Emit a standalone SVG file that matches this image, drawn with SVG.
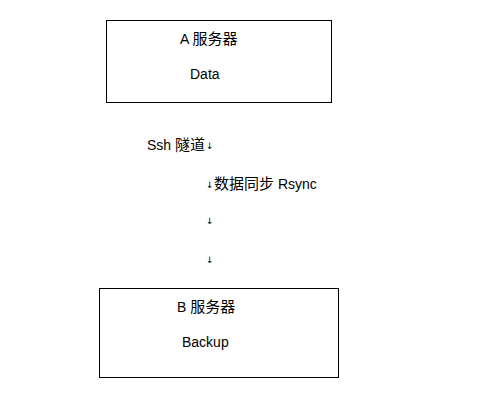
<svg xmlns="http://www.w3.org/2000/svg" width="491" height="418" viewBox="0 0 491 418">
<style>
.box{fill:#fff;stroke:#000;stroke-width:1}
.t{font-family:"Liberation Sans","Noto Sans CJK SC",sans-serif;font-size:14px;fill:#000}
.c{font-family:"Noto Sans CJK SC",sans-serif;font-size:15px}
.m{font-family:"DejaVu Sans",sans-serif;font-size:9px;fill:#000}
</style>
<rect width="491" height="418" fill="#fff"/>
<g id="nodeA">
<rect class="box" x="106.5" y="20.5" width="225" height="82"/>
<text class="t" x="180" y="44">A <tspan class="c">服务器</tspan></text>
<text class="t" x="190" y="79">Data</text>
</g>
<g id="nodeB">
<rect class="box" x="99.5" y="288.5" width="239" height="89"/>
<text class="t" x="177" y="312">B <tspan class="c">服务器</tspan></text>
<text class="t" x="182" y="347">Backup</text>
</g>
<g id="connectors">
<text class="t" x="147" y="150">Ssh <tspan class="c">隧道</tspan></text>
<text class="m" x="206" y="149">↓</text>
<text class="m" x="206" y="188">↓</text>
<text class="t" x="214" y="189"><tspan class="c">数据同步</tspan> Rsync</text>
<text class="m" x="206" y="224">↓</text>
<text class="m" x="206" y="263">↓</text>
</g>
</svg>
